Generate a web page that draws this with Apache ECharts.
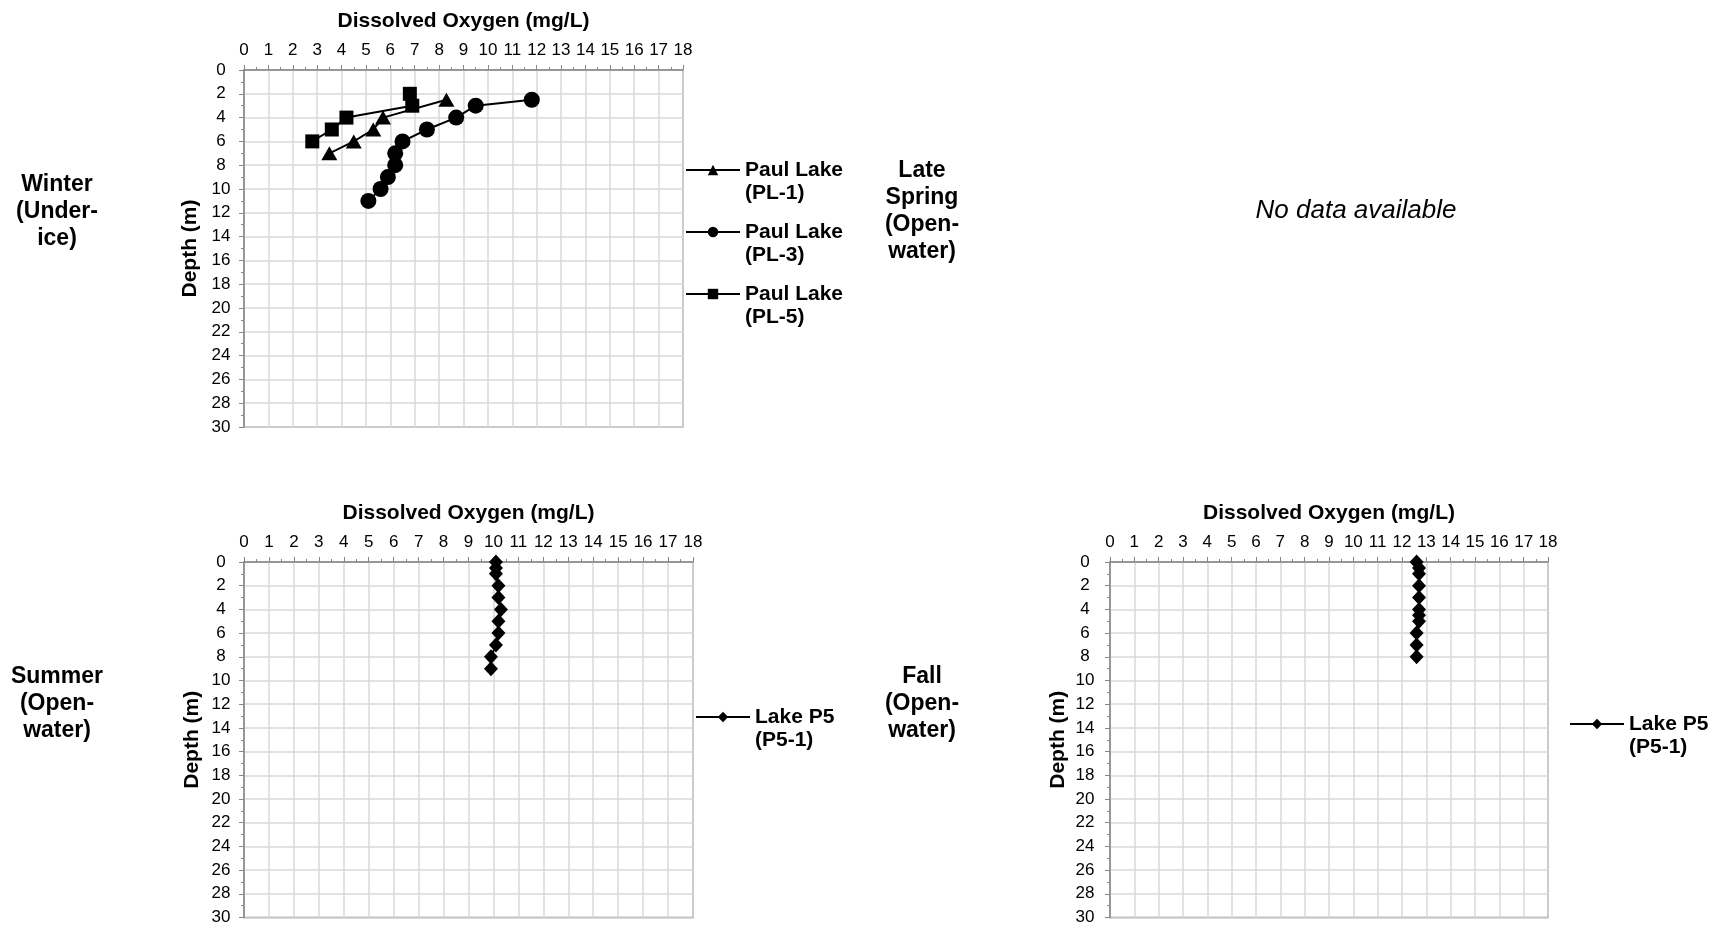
<!DOCTYPE html>
<html>
<head>
<meta charset="utf-8">
<script src="https://cdn.jsdelivr.net/npm/echarts@6/dist/echarts.min.js"></script>
<style>
html,body{margin:0;padding:0;background:#ffffff;}
#chart{width:1722px;height:926px;}
</style>
</head>
<body>
<div id="chart"></div>
<script>
// ---- Data ----
const xAxisTitle = 'Dissolved Oxygen (mg/L)';
const yAxisTitle = 'Depth (m)';

// Winter (Under-ice)
const pl1Name = 'Paul Lake (PL-1)';
const pl1Depth = [2.5, 4, 5, 6, 7];
const pl1DO = [8.3, 5.7, 5.3, 4.5, 3.5];

const pl3Name = 'Paul Lake (PL-3)';
const pl3Depth = [2.5, 3, 4, 5, 6, 7, 8, 9, 10, 11];
const pl3DO = [11.8, 9.5, 8.7, 7.5, 6.5, 6.2, 6.2, 5.9, 5.6, 5.1];

const pl5Name = 'Paul Lake (PL-5)';
const pl5Depth = [2, 3, 4, 5, 6];
const pl5DO = [6.8, 6.9, 4.2, 3.6, 2.8];

// Summer (Open-water)
const p5Name = 'Lake P5 (P5-1)';
const summerDepth = [0, 0.5, 1, 2, 3, 4, 5, 6, 7, 8, 9];
const summerDO = [10.1, 10.1, 10.1, 10.2, 10.2, 10.3, 10.2, 10.2, 10.1, 9.9, 9.9];

// Fall (Open-water)
const fallDepth = [0, 0.5, 1, 2, 3, 4, 4.5, 5, 6, 7, 8];
const fallDO = [12.6, 12.7, 12.7, 12.7, 12.7, 12.7, 12.7, 12.7, 12.6, 12.6, 12.6];

// Season labels
const seasonWinter = 'Winter\n(Under-\nice)';
const seasonSpring = 'Late\nSpring\n(Open-\nwater)';
const seasonSummer = 'Summer\n(Open-\nwater)';
const seasonFall = 'Fall\n(Open-\nwater)';
const noDataText = 'No data available';

// Axis ranges
const doMin = 0, doMax = 18, doStep = 1;
const depthMin = 0, depthMax = 30, depthStep = 2;

// ---- Build chart ----
const FONT = '"Liberation Sans", Arial, Helvetica, sans-serif';
const AXIS_GRAY = '#868686';
const GRID_GRAY = '#d9d9d9';

function pairs(xs, ys) { return xs.map((x, i) => [x, ys[i]]); }

function makeX(gi) {
  return {
    type: 'value', gridIndex: gi, position: 'top',
    min: doMin, max: doMax, interval: doStep,
    name: xAxisTitle, nameLocation: 'middle', nameGap: 38,
    nameTextStyle: { fontFamily: FONT, fontSize: 21, fontWeight: 'bold', color: '#000' },
    axisLine: { show: true, onZero: false, lineStyle: { color: AXIS_GRAY, width: 1.5 } },
    axisTick: { show: true, length: 5, lineStyle: { color: AXIS_GRAY, width: 1 } },
    minorTick: { show: true, splitNumber: 2, length: 3, lineStyle: { color: AXIS_GRAY, width: 1 } },
    axisLabel: { fontFamily: FONT, fontSize: 17, color: '#000', margin: 11 },
    splitLine: { show: true, lineStyle: { color: GRID_GRAY, width: 1.5 } },
    minorSplitLine: { show: false }
  };
}
function makeY(gi, nameGap, labelMargin) {
  return {
    type: 'value', gridIndex: gi, inverse: true,
    min: depthMin, max: depthMax, interval: depthStep,
    name: yAxisTitle, nameLocation: 'middle', nameRotate: 90, nameGap: nameGap,
    nameTextStyle: { fontFamily: FONT, fontSize: 21, fontWeight: 'bold', color: '#000' },
    axisLine: { show: true, onZero: false, lineStyle: { color: AXIS_GRAY, width: 1.5 } },
    axisTick: { show: true, length: 5, lineStyle: { color: AXIS_GRAY, width: 1 } },
    minorTick: { show: true, splitNumber: 2, length: 3, lineStyle: { color: AXIS_GRAY, width: 1 } },
    axisLabel: { fontFamily: FONT, fontSize: 17, color: '#000', margin: labelMargin, align: 'center' },
    splitLine: { show: true, lineStyle: { color: GRID_GRAY, width: 1.5 } }
  };
}
function makeSeries(name, gi, xs, ys, symbol, size) {
  return {
    type: 'line', name: name, xAxisIndex: gi, yAxisIndex: gi,
    data: pairs(xs, ys), symbol: symbol, symbolSize: size,
    showAllSymbol: true, silent: true,
    lineStyle: { color: '#000', width: 2 },
    itemStyle: { color: '#000', borderWidth: 0 },
    emphasis: { disabled: true }
  };
}
function makeLegend(left, iconCenterY, names) {
  return {
    orient: 'vertical', left: left, top: iconCenterY - 34.5, padding: 0,
    itemWidth: 54, itemHeight: 13, itemGap: -7, selectedMode: false,
    data: names,
    // blank first line keeps the icon level with the first text line
    formatter: n => ' \n' + n.replace(' (', '\n('),
    textStyle: { fontFamily: FONT, fontSize: 21, fontWeight: 'bold', color: '#000', lineHeight: 23 }
  };
}
function seasonText(text, x, y) {
  return { type: 'text', silent: true, style: {
    text: text, x: x, y: y, align: 'center', verticalAlign: 'middle',
    font: 'bold 23px ' + FONT, lineHeight: 27, fill: '#000' } };
}

const chart = echarts.init(document.getElementById('chart'), null, { renderer: 'canvas' });
chart.setOption({
  animation: false,
  backgroundColor: '#ffffff',
  grid: [
    { left: 244, top: 70, width: 439, height: 357, show: true, borderColor: AXIS_GRAY, borderWidth: 1.5, containLabel: false },
    { left: 244, top: 562, width: 449, height: 356, show: true, borderColor: AXIS_GRAY, borderWidth: 1.5, containLabel: false },
    { left: 1110, top: 562, width: 438, height: 356, show: true, borderColor: AXIS_GRAY, borderWidth: 1.5, containLabel: false }
  ],
  xAxis: [makeX(0), makeX(1), makeX(2)],
  yAxis: [makeY(0, 43, 23), makeY(1, 41, 23), makeY(2, 41, 25)],
  legend: [
    makeLegend(685, 170, [pl1Name, pl3Name, pl5Name]),
    makeLegend(695, 717, [p5Name]),
    makeLegend(1569, 724, [p5Name])
  ],
  series: [
    makeSeries(pl1Name, 0, pl1DO, pl1Depth, 'triangle', [16, 14]),
    makeSeries(pl3Name, 0, pl3DO, pl3Depth, 'circle', 16),
    makeSeries(pl5Name, 0, pl5DO, pl5Depth, 'rect', 14),
    makeSeries(p5Name, 1, summerDO, summerDepth, 'diamond', [14, 15]),
    makeSeries(p5Name, 2, fallDO, fallDepth, 'diamond', [14, 15])
  ],
  graphic: [
    seasonText(seasonWinter, 57, 212),
    seasonText(seasonSpring, 922, 211),
    seasonText(seasonSummer, 57, 704),
    seasonText(seasonFall, 922, 704),
    { type: 'text', silent: true, style: {
      text: noDataText, x: 1356, y: 211, align: 'center', verticalAlign: 'middle',
      font: 'italic 26px ' + FONT, fill: '#000' } }
  ]
});
</script>
</body>
</html>
